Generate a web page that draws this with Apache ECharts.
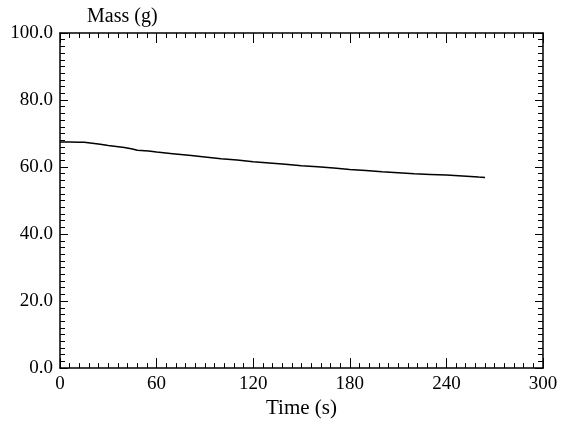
<!DOCTYPE html>
<html>
<head>
<meta charset="utf-8">
<script src="https://cdn.jsdelivr.net/npm/echarts@6/dist/echarts.min.js"></script>
<style>
html,body{margin:0;padding:0;background:#fff;}
#chart{width:562px;height:424px;}
</style>
</head>
<body>
<div id="chart"></div>
<script>
var times = [0, 6, 12, 15, 20, 25, 30, 35, 40, 45, 48, 55, 60, 70, 80, 90, 100, 110, 120, 130, 140, 150, 160, 170, 180, 190, 200, 210, 220, 230, 240, 250, 260, 264];
var mass = [67.5, 67.5, 67.4, 67.4, 67.1, 66.8, 66.4, 66.1, 65.8, 65.4, 65.0, 64.8, 64.5, 64.0, 63.5, 63.0, 62.5, 62.1, 61.6, 61.2, 60.8, 60.4, 60.1, 59.7, 59.3, 59.0, 58.6, 58.3, 58.0, 57.8, 57.6, 57.3, 57.0, 56.9];
var xName = 'Time (s)';
var yName = 'Mass (g)';

var font = '"Liberation Serif", "Times New Roman", serif';
var pairs = times.map(function (t, i) { return [t, mass[i]]; });

var lineStyle = { color: '#000', width: 1.5 };
function xAx(pos, showLabel) {
  return {
    type: 'value', position: pos, min: 0, max: 300, interval: 60,
    name: showLabel ? xName : '', nameLocation: 'middle', nameGap: 26,
    nameTextStyle: { fontFamily: font, fontSize: 21, color: '#000' },
    axisLine: { show: true, onZero: false, lineStyle: lineStyle },
    axisTick: { show: true, inside: true, length: 10, lineStyle: { color: '#000', width: 1 } },
    minorTick: { show: true, splitNumber: 10, length: 5, lineStyle: { color: '#000', width: 1 } },
    axisLabel: { show: showLabel, margin: 6, fontFamily: font, fontSize: 19, color: '#000' },
    splitLine: { show: false }
  };
}
function yAx(pos, showLabel) {
  return {
    type: 'value', position: pos, min: 0, max: 100, interval: 20,
    name: showLabel ? yName : '', nameLocation: 'end', nameGap: 6,
    nameTextStyle: { fontFamily: font, fontSize: 20, color: '#000', align: 'left', padding: [0, 0, 0, 27] },
    axisLine: { show: true, onZero: false, lineStyle: lineStyle },
    axisTick: { show: true, inside: true, length: 8, lineStyle: { color: '#000', width: 1 } },
    minorTick: { show: true, splitNumber: 10, length: 5, lineStyle: { color: '#000', width: 1 } },
    axisLabel: {
      show: showLabel, margin: 7, fontFamily: font, fontSize: 19, color: '#000',
      padding: [0, 0, 14, 0],
      formatter: function (v) { return v.toFixed(1); }
    },
    splitLine: { show: false }
  };
}

var chart = echarts.init(document.getElementById('chart'));
chart.setOption({
  backgroundColor: '#fff',
  animation: false,
  grid: { left: 60, right: 19, top: 33, bottom: 42 },
  xAxis: [xAx('bottom', true), xAx('top', false)],
  yAxis: [yAx('left', true), yAx('right', false)],
  series: [{
    type: 'line', xAxisIndex: 0, yAxisIndex: 0,
    data: pairs, showSymbol: false, smooth: false,
    lineStyle: { color: '#000', width: 1.5 }
  }]
});
</script>
</body>
</html>
